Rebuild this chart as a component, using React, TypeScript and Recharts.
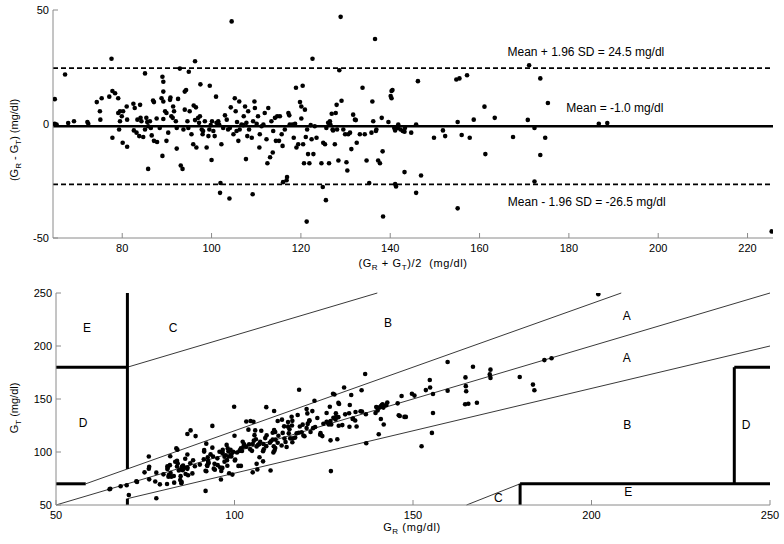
import React from 'react';
import { ScatterChart, Scatter, XAxis, YAxis, ReferenceLine } from 'recharts';

const FONT = '"Liberation Sans", Arial, Helvetica, sans-serif';

// ---------- Bland-Altman panel: mean (G_R+G_T)/2 and difference G_R-G_T (mg/dl)
const baMean = [
  64.9, 64.9, 65.3, 67.2, 67.9, 69.2, 72.2, 72.4, 74.3, 75.0,
  75.1, 75.4, 77.1, 77.6, 77.8, 77.8, 78.4, 79.1, 79.1, 79.5,
  79.9, 79.3, 79.5, 80.2, 80.1, 81.0, 81.1, 81.1, 82.5, 82.6,
  82.8, 83.2, 83.4, 83.8, 84.0, 84.1, 84.3, 85.1, 85.1, 84.7,
  85.4, 85.6, 85.8, 85.8, 86.2, 86.4, 86.6, 86.9, 87.1, 87.1,
  87.7, 87.8, 88.4, 88.8, 89.2, 89.2, 89.0, 89.2, 89.2, 89.0,
  89.6, 89.9, 89.9, 90.3, 90.7, 90.8, 91.0, 91.3, 91.4, 91.6,
  92.0, 92.2, 92.2, 92.5, 92.9, 93.1, 93.5, 93.7, 94.0, 94.0,
  94.3, 94.6, 94.8, 94.9, 95.1, 95.5, 95.9, 96.0, 96.3, 96.3,
  96.5, 96.6, 97.0, 97.2, 97.4, 97.5, 97.8, 98.0, 98.1, 98.5,
  98.9, 99.3, 99.5, 99.6, 99.8, 100.0, 100.1, 100.4, 100.7, 101.0,
  101.1, 101.5, 101.7, 101.9, 102.0, 102.2, 102.6, 103.0, 103.4, 103.7,
  104.0, 104.1, 104.3, 104.5, 104.9, 105.2, 105.4, 105.6, 105.7, 106.0,
  106.2, 106.3, 106.7, 107.1, 107.2, 107.5, 107.7, 107.8, 108.0, 108.2,
  108.4, 109.0, 109.2, 109.3, 109.6, 109.7, 110.1, 110.4, 110.7, 110.8,
  111.2, 111.6, 111.9, 112.3, 112.5, 112.7, 113.1, 113.4, 113.7, 113.8,
  114.2, 114.4, 114.7, 115.1, 115.3, 115.7, 115.9, 116.0, 116.4, 116.8,
  116.9, 117.2, 117.4, 117.5, 118.1, 118.4, 118.7, 118.9, 119.0, 119.4,
  119.8, 120.1, 120.1, 120.4, 120.5, 120.7, 120.9, 121.1, 121.3, 121.4,
  121.6, 121.9, 122.2, 122.4, 122.6, 122.8, 123.1, 123.5, 124.6, 124.9,
  125.0, 125.4, 125.6, 125.7, 126.1, 126.3, 126.5, 126.6, 126.9, 127.1,
  127.2, 127.6, 127.8, 128.0, 128.1, 128.4, 128.6, 128.9, 129.1, 129.5,
  129.9, 130.2, 130.4, 130.6, 131.0, 131.3, 131.7, 132.1, 132.3, 132.5,
  133.2, 133.8, 134.3, 134.7, 135.3, 135.8, 136.0, 136.2, 136.6, 136.8,
  136.9, 137.3, 137.7, 138.1, 138.3, 138.4, 139.6, 140.1, 140.3, 140.5,
  141.3, 140.3, 140.9, 141.1, 141.7, 141.8, 142.3, 142.8, 143.2, 143.3,
  141.1, 141.3, 143.2, 144.7, 145.8, 145.8, 146.2, 146.9, 149.8, 151.8,
  152.3, 154.8, 155.5, 155.1, 155.1, 156.0, 157.2, 157.8, 158.7, 161.1,
  161.3, 163.4, 167.5, 170.8, 171.1, 172.3, 172.3, 173.6, 173.6, 174.7,
  175.3, 186.7, 188.6, 225.4,
];
const baDiff = [
  10.9, 0.1, -0.2, 21.7, 0.4, 1.2, 0.9, 0.1, 9.6, 5.6,
  1.9, 11.3, 12.0, 28.6, 14.5, -6.0, 13.5, 11.3, 4.8, 5.6,
  3.4, -2.4, 1.2, 5.6, -8.2, 7.7, 1.9, -10.0, 8.9, -2.8,
  7.0, -3.8, 1.9, -5.3, 8.4, 2.7, 1.2, 22.2, -2.4, -5.7,
  2.7, 0.9, -1.0, -19.7, 1.2, -1.7, -5.0, 10.3, 9.6, -7.4,
  2.4, -7.9, -1.7, 11.3, 9.9, 2.2, 20.7, 18.5, 14.2, -14.0,
  5.6, 4.8, -7.4, -3.8, 10.6, 11.6, 3.4, 2.7, 7.7, 5.6,
  1.2, -1.7, -10.8, 11.0, 24.3, -18.2, -19.7, -2.4, 6.3, 14.2,
  14.9, 1.2, -1.7, 22.9, 5.6, -4.5, -8.9, 8.1, 27.5, 1.7,
  7.3, -10.3, 2.7, 0.5, 3.4, 17.4, -2.4, -4.5, -3.1, 1.2,
  -10.3, -5.3, -2.4, 16.8, -0.5, -15.8, 1.2, -3.1, -5.3, 12.0,
  0.5, 1.2, -0.2, -30.2, -25.9, -8.9, -1.7, 3.8, 1.9, -2.4,
  -32.7, -1.7, 7.3, 45.0, -4.5, 11.3, 5.6, -3.1, 0.9, -7.4,
  9.9, -2.4, -0.2, -0.5, 3.4, 7.7, -15.4, 0.5, -5.3, 5.6,
  -2.4, -6.0, -30.8, 1.2, 9.9, 7.0, 0.1, 3.4, -10.3, -4.5,
  -1.0, -0.2, 4.8, -6.7, -17.2, 7.0, -14.6, 1.2, -12.5, -3.1,
  2.7, -7.4, 3.4, -7.4, 3.4, -4.5, -9.6, -25.5, -2.4, -24.7,
  -23.3, 4.8, 3.8, -0.2, -0.2, -6.0, 0.1, 15.9, -10.3, -8.9,
  9.6, 7.7, 2.4, 16.8, -8.9, -17.2, 6.3, -5.7, -42.8, -2.4,
  -13.2, -17.2, -0.5, -6.7, 28.6, -13.2, -1.0, -6.0, -17.2, -27.6,
  -8.2, -8.9, -33.4, -1.7, 0.5, -17.2, 1.2, -0.2, 4.5, -2.4,
  -2.8, -8.9, 4.8, 8.4, -2.4, -16.0, 23.6, 47.0, 10.2, -2.4,
  -4.5, -16.8, -20.4, -4.5, -3.8, -11.0, 4.1, 1.9, 1.7, -8.2,
  -4.5, 15.9, -4.5, -16.0, -25.9, -3.8, 9.9, 1.2, 37.3, -3.1,
  -2.4, -16.0, -17.2, 2.7, -12.0, -40.6, 0.9, 12.3, 11.3, 14.9,
  -1.4, 14.5, -1.7, -2.8, -1.7, -0.2, -2.4, -3.1, -3.4, -1.7,
  -26.3, -27.4, -21.1, -3.8, -0.2, -30.2, 18.8, -22.6, -6.0, -2.8,
  -5.3, 19.5, 20.0, 0.9, -37.0, -4.8, 21.4, -6.0, 1.9, 7.6,
  -13.2, 2.7, -5.7, 1.8, 25.8, -1.7, -25.2, 20.0, -13.6, -6.0,
  9.2, 0.1, 0.4, -47.1,
];
const meanDiff = -1.0;
const upperLimit = 24.5;
const lowerLimit = -26.5;
const baXDomain = [64.5, 225.7];
const baYDomain = [-50, 50];
const baXTicks = [80, 100, 120, 140, 160, 180, 200, 220];
const baYTicks = [-50, 0, 50];
const baNotes = ['Mean + 1.96 SD = 24.5 mg/dl', 'Mean = -1.0 mg/dl', 'Mean - 1.96 SD = -26.5 mg/dl'];
const baNoteX = [183.8, 190.3, 184.0];
const baNoteY = [31.6, 7.0, -34.1];

// ---------- Clarke error grid: reference G_R vs test G_T (mg/dl)
const refGlucose = [
  70.4, 65.0, 65.2, 78.1, 68.1, 69.8, 72.7, 72.5, 79.1, 77.8,
  76.1, 81.1, 83.1, 91.9, 85.1, 74.8, 85.2, 84.8, 81.5, 82.3,
  81.6, 78.1, 80.1, 83.0, 76.0, 84.9, 82.1, 76.1, 87.0, 81.2,
  86.3, 81.3, 84.4, 81.2, 88.2, 85.5, 84.9, 96.2, 83.9, 81.9,
  86.8, 86.1, 85.3, 76.0, 86.8, 85.6, 84.1, 92.1, 91.9, 83.4,
  88.9, 83.9, 87.6, 94.5, 94.2, 90.3, 99.4, 98.5, 96.3, 82.0,
  92.4, 92.3, 86.2, 88.4, 96.0, 96.6, 92.7, 92.7, 95.3, 94.4,
  92.6, 91.4, 86.8, 98.0, 105.1, 84.0, 83.7, 92.5, 97.2, 101.1,
  101.8, 95.2, 94.0, 106.4, 97.9, 93.3, 91.5, 100.1, 110.1, 97.2,
  100.2, 91.5, 98.4, 97.5, 99.1, 106.2, 96.6, 95.8, 96.6, 99.1,
  93.8, 96.7, 98.3, 108.0, 99.6, 92.1, 100.7, 98.9, 98.1, 107.0,
  101.4, 102.1, 101.6, 86.8, 89.1, 97.8, 101.8, 104.9, 104.4, 102.5,
  87.7, 103.3, 108.0, 127.0, 102.7, 110.9, 108.2, 104.1, 106.2, 102.3,
  111.2, 105.1, 106.6, 106.9, 108.9, 111.4, 100.0, 108.1, 105.4, 111.0,
  107.2, 106.0, 93.8, 109.9, 114.6, 113.2, 110.2, 112.1, 105.6, 108.6,
  110.7, 111.5, 114.3, 109.0, 103.9, 116.2, 105.8, 114.0, 107.5, 112.3,
  115.6, 110.7, 116.4, 111.4, 117.0, 113.5, 111.1, 103.3, 115.2, 104.5,
  105.3, 119.6, 119.3, 117.4, 118.0, 115.4, 118.8, 126.9, 113.9, 115.0,
  124.6, 124.0, 121.3, 128.8, 116.1, 112.1, 124.1, 118.3, 99.9, 120.2,
  115.0, 113.3, 122.0, 119.1, 136.9, 116.2, 122.6, 120.5, 116.0, 111.1,
  120.9, 121.0, 108.9, 124.9, 126.4, 117.7, 127.1, 126.5, 129.2, 125.9,
  125.8, 123.2, 130.2, 132.2, 126.9, 120.4, 140.4, 152.4, 134.2, 128.3,
  127.7, 121.8, 120.2, 128.4, 129.1, 125.8, 133.8, 133.1, 133.2, 128.4,
  131.0, 141.8, 132.1, 126.7, 122.4, 133.9, 141.0, 136.8, 155.3, 135.3,
  135.7, 129.3, 129.1, 139.5, 132.3, 118.1, 140.1, 146.3, 146.0, 148.0,
  140.6, 147.6, 140.1, 139.7, 140.9, 141.7, 141.1, 141.3, 141.5, 142.5,
  128.0, 127.6, 132.7, 142.8, 145.7, 130.7, 155.6, 135.6, 146.8, 150.4,
  149.7, 164.6, 165.5, 155.6, 136.6, 153.6, 167.9, 154.8, 159.7, 164.9,
  154.7, 164.8, 164.7, 171.7, 184.0, 171.5, 159.7, 183.6, 166.8, 171.7,
  179.9, 186.8, 188.8, 201.9,
];
const testGlucose = [
  59.5, 64.9, 65.4, 56.4, 67.7, 68.6, 71.8, 72.4, 69.5, 72.2,
  74.2, 69.8, 71.1, 63.3, 70.6, 80.8, 71.7, 73.5, 76.7, 76.7,
  78.2, 80.5, 78.9, 77.4, 84.2, 77.2, 80.2, 86.1, 78.1, 84.0,
  79.3, 85.1, 82.5, 86.5, 79.8, 82.8, 83.7, 74.0, 86.3, 87.6,
  84.1, 85.2, 86.3, 95.7, 85.6, 87.3, 89.1, 81.8, 82.3, 90.8,
  86.5, 91.8, 89.3, 83.2, 84.3, 88.1, 78.7, 80.0, 82.1, 96.0,
  86.8, 87.5, 93.6, 92.2, 85.4, 85.0, 89.3, 90.0, 87.6, 88.8,
  91.4, 93.1, 97.6, 87.0, 80.8, 102.2, 103.4, 94.9, 90.9, 86.9,
  86.9, 94.0, 95.7, 83.5, 92.3, 97.8, 100.4, 92.0, 82.6, 95.5,
  92.9, 101.8, 95.7, 97.0, 95.7, 88.8, 99.0, 100.3, 99.7, 97.9,
  104.1, 102.0, 100.7, 91.2, 100.1, 107.9, 99.5, 102.0, 103.4, 95.0,
  100.9, 100.9, 101.8, 117.0, 115.0, 106.7, 103.5, 101.1, 102.5, 104.9,
  120.4, 105.0, 100.7, 82.0, 107.2, 99.6, 102.6, 107.2, 105.3, 109.7,
  101.3, 107.5, 106.8, 107.4, 105.5, 103.7, 115.4, 107.6, 110.7, 105.4,
  109.6, 112.0, 124.6, 108.7, 104.7, 106.2, 110.1, 108.7, 115.9, 113.1,
  111.7, 111.7, 109.5, 115.7, 121.1, 109.2, 120.4, 112.8, 120.0, 115.4,
  112.9, 118.1, 113.0, 118.8, 113.6, 118.0, 120.7, 128.8, 117.6, 129.2,
  128.6, 114.8, 115.5, 117.6, 118.2, 121.4, 118.7, 111.0, 124.2, 123.9,
  115.0, 116.3, 118.9, 112.0, 125.0, 129.3, 117.8, 124.0, 142.7, 122.6,
  128.2, 130.5, 122.5, 125.8, 108.3, 129.4, 123.6, 126.5, 133.2, 138.7,
  129.1, 129.9, 142.3, 126.6, 125.9, 134.9, 125.9, 126.7, 124.7, 128.3,
  128.6, 132.1, 125.4, 123.8, 129.3, 136.4, 116.8, 105.4, 124.0, 130.7,
  132.2, 138.6, 140.6, 132.9, 132.9, 136.8, 129.7, 131.2, 131.5, 136.6,
  135.5, 125.9, 136.6, 142.7, 148.3, 137.7, 131.1, 135.6, 118.0, 138.4,
  138.1, 145.3, 146.3, 136.8, 144.3, 158.7, 139.2, 134.0, 134.7, 133.1,
  142.0, 133.1, 141.8, 142.5, 142.6, 141.9, 143.5, 144.4, 144.9, 144.2,
  154.3, 155.0, 153.8, 146.6, 145.9, 160.9, 136.8, 158.2, 152.8, 153.2,
  155.0, 145.1, 145.5, 154.7, 173.6, 158.4, 146.5, 160.8, 157.8, 157.3,
  167.9, 162.1, 170.4, 169.9, 158.2, 173.2, 184.9, 163.6, 180.4, 177.7,
  170.7, 186.7, 188.4, 248.9,
];
const cegDomain = [50, 250];
const cegTicks = [50, 100, 150, 200, 250];
// zone boundaries [x1, y1, x2, y2] in mg/dl
const thinZoneLines = [
  [50, 50, 250, 250],
  [58.33, 70, 208.33, 250],
  [70, 56, 250, 200],
  [70, 180, 140, 250],
  [165, 50, 180, 70],
];
const thickZoneLines = [
  [50, 70, 58.33, 70],
  [70, 84, 70, 250],
  [50, 180, 70, 180],
  [70, 50, 70, 56],
  [180, 50, 180, 70],
  [180, 70, 250, 70],
  [240, 70, 240, 180],
  [240, 180, 250, 180],
];
const zoneNames = ['E', 'C', 'B', 'A', 'A', 'D', 'B', 'D', 'E', 'C'];
const zoneNameX = [58.7, 82.8, 143.0, 209.9, 209.9, 57.6, 210.0, 243.3, 210.3, 173.9];
const zoneNameY = [217, 217, 221.7, 228.3, 189, 127, 125.2, 125.2, 62, 56.3];

// ---------- tables built from the arrays
const baData = baMean.map((m, i) => ({ x: m, y: baDiff[i] }));
const baNoteData = baNotes.map((t, i) => ({ x: baNoteX[i], y: baNoteY[i], text: t }));
const cegData = refGlucose.map((r, i) => ({ x: r, y: testGlucose[i] }));
const zoneData = zoneNames.map((t, i) => ({ x: zoneNameX[i], y: zoneNameY[i], text: t }));

const AXIS_GRAY = '#8a8a8a';
const tickStyle = { fill: '#000', fontSize: 11, fontFamily: FONT };
const noTick = () => <g />;

const Dot = (p: any) => <circle cx={p.cx} cy={p.cy} r={2.3} fill="#000" />;
const TextMark = (p: any) => (
  <text x={p.cx} y={p.cy} textAnchor="middle" dominantBaseline="central" fontSize={12} fontFamily={FONT} fill="#000">
    {p.payload.text}
  </text>
);

const seg = (s: number[]) => [
  { x: s[0], y: s[1] },
  { x: s[2], y: s[3] },
];

export default function App() {
  return (
    <div style={{ position: 'absolute', left: 0, top: 0, width: 784, height: 544, background: '#fff', overflow: 'hidden' }}>
      <div style={{ position: 'absolute', left: 0, top: 0 }}>
        <ScatterChart width={784} height={270} margin={{ top: 10, right: 11, bottom: 2, left: 8 }}>
          <XAxis xAxisId="b" type="number" dataKey="x" domain={baXDomain} ticks={baXTicks} allowDataOverflow interval={0}
            tickSize={-5} tickMargin={11} height={30} stroke={AXIS_GRAY} tick={tickStyle} />
          <XAxis xAxisId="t" orientation="top" type="number" dataKey="x" domain={baXDomain} ticks={baXTicks} allowDataOverflow interval={0}
            tickSize={-5} height={0} stroke={AXIS_GRAY} tick={noTick} />
          <YAxis yAxisId="l" type="number" dataKey="y" domain={baYDomain} ticks={baYTicks} allowDataOverflow interval={0}
            tickSize={-5} tickMargin={9} width={45} stroke={AXIS_GRAY} tick={tickStyle} />
          <YAxis yAxisId="r" orientation="right" type="number" dataKey="y" domain={baYDomain} ticks={baYTicks} allowDataOverflow interval={0}
            tickSize={-5} width={0} stroke={AXIS_GRAY} tick={noTick} />
          <ReferenceLine xAxisId="b" yAxisId="l" y={upperLimit} stroke="#000" strokeWidth={1.6} strokeDasharray="5 3" />
          <ReferenceLine xAxisId="b" yAxisId="l" y={lowerLimit} stroke="#000" strokeWidth={1.6} strokeDasharray="5 3" />
          <ReferenceLine xAxisId="b" yAxisId="l" y={meanDiff} stroke="#000" strokeWidth={2.5} />
          <Scatter xAxisId="b" yAxisId="l" data={baData} shape={Dot} isAnimationActive={false} />
          <Scatter xAxisId="b" yAxisId="l" data={baNoteData} shape={TextMark} isAnimationActive={false} />
        </ScatterChart>
      </div>
      <div style={{ position: 'absolute', left: 0, top: 275 }}>
        <ScatterChart width={784} height={269} margin={{ top: 18, right: 14, bottom: 4, left: 8 }}>
          <XAxis xAxisId="b" type="number" dataKey="x" domain={cegDomain} ticks={cegTicks} allowDataOverflow interval={0}
            tickSize={-5} tickMargin={11} height={35} stroke={AXIS_GRAY} tick={tickStyle} />
          <XAxis xAxisId="t" orientation="top" type="number" dataKey="x" domain={cegDomain} ticks={cegTicks} allowDataOverflow interval={0}
            tickSize={-5} height={0} stroke={AXIS_GRAY} tick={noTick} />
          <YAxis yAxisId="l" type="number" dataKey="y" domain={cegDomain} ticks={cegTicks} allowDataOverflow interval={0}
            tickSize={-5} tickMargin={9} width={48} stroke={AXIS_GRAY} tick={tickStyle} />
          <YAxis yAxisId="r" orientation="right" type="number" dataKey="y" domain={cegDomain} ticks={cegTicks} allowDataOverflow interval={0}
            tickSize={-5} width={0} stroke={AXIS_GRAY} tick={noTick} />
          {thinZoneLines.map((s, i) => (
            <ReferenceLine key={'thin' + i} xAxisId="b" yAxisId="l" segment={seg(s)} stroke="#222" strokeWidth={0.9} />
          ))}
          {thickZoneLines.map((s, i) => (
            <ReferenceLine key={'thick' + i} xAxisId="b" yAxisId="l" segment={seg(s)} stroke="#000" strokeWidth={3} />
          ))}
          <Scatter xAxisId="b" yAxisId="l" data={cegData} shape={Dot} isAnimationActive={false} />
          <Scatter xAxisId="b" yAxisId="l" data={zoneData} shape={TextMark} isAnimationActive={false} />
        </ScatterChart>
      </div>
      <svg width={784} height={544} style={{ position: 'absolute', left: 0, top: 0, pointerEvents: 'none' }}>
        <g fontFamily={FONT} fontSize={11} fill="#000">
          <text x={413} y={267} textAnchor="middle" letterSpacing={0.6}>
            (G<tspan dy={3} fontSize={8}>R</tspan>
            <tspan dy={-3}>{'\u00a0+ G'}</tspan>
            <tspan dy={3} fontSize={8}>T</tspan>
            <tspan dy={-3}>{')/2\u00a0\u00a0(mg/dl)'}</tspan>
          </text>
          <text x={412} y={531} textAnchor="middle" letterSpacing={0.6}>
            G<tspan dy={3} fontSize={8}>R</tspan>
            <tspan dy={-3}>{'\u00a0(mg/dl)'}</tspan>
          </text>
          <text transform="translate(18,140) rotate(-90)" textAnchor="middle">
            (G<tspan dy={3} fontSize={8}>R</tspan>
            <tspan dy={-3}>{'\u00a0- G'}</tspan>
            <tspan dy={3} fontSize={8}>T</tspan>
            <tspan dy={-3}>{') (mg/dl)'}</tspan>
          </text>
          <text transform="translate(18,408) rotate(-90)" textAnchor="middle">
            G<tspan dy={3} fontSize={8}>T</tspan>
            <tspan dy={-3}>{'\u00a0(mg/dl)'}</tspan>
          </text>
        </g>
      </svg>
    </div>
  );
}
